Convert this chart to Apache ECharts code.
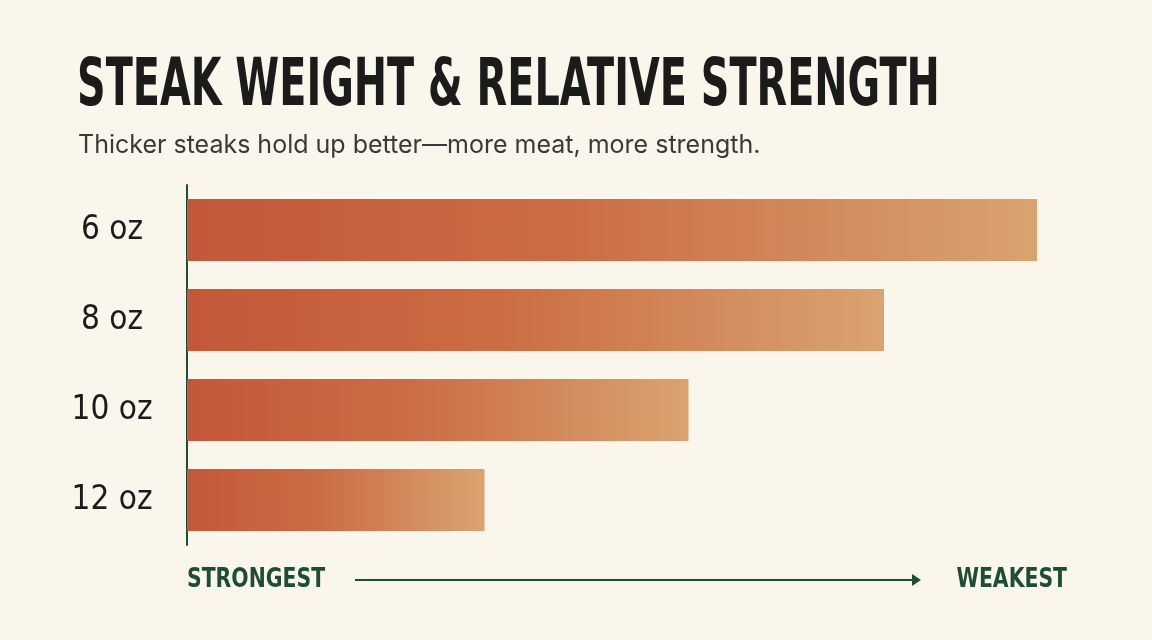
<!DOCTYPE html>
<html>
<head>
<meta charset="UTF-8">
<title>Steak weight & relative strength</title>
<script src="https://cdn.jsdelivr.net/npm/echarts@6/dist/echarts.min.js"></script>
<style>
  html, body { margin: 0; padding: 0; background: #fbf6ec; }
  #main { width: 1152px; height: 640px; }
</style>
</head>
<body>
<div id="main"></div>
<script>
    // data (relative strength, strongest = 100)
    var weights = ['6 oz', '8 oz', '10 oz', '12 oz'];
    var strength = [100, 82, 59, 35];
    var scaleLabels = ['STRONGEST', 'WEAKEST'];

    var titleText = 'STEAK WEIGHT & RELATIVE STRENGTH';
    var subText = 'Thicker steaks hold up better\u2014more meat, more strength.';

    var condensed = '"DejaVu Sans Condensed", "Liberation Sans Narrow", sans-serif';
    var green = '#1e4d34';

    var myChart = echarts.init(document.getElementById('main'));

    // red at the start of each bar, fading to tan at its end
    var barFill = new echarts.graphic.LinearGradient(0, 0, 1, 0, [
        { offset: 0, color: '#c4573a' },
        { offset: 0.45, color: '#cb6d44' },
        { offset: 1, color: '#d9a370' }
    ]);

    var option = {
        backgroundColor: '#fbf6ec',
        animation: false,
        grid: {
            left: 187,
            right: 115,
            top: 185,
            height: 360
        },
        xAxis: {
            type: 'value',
            min: 0,
            max: 100,
            show: false
        },
        yAxis: {
            type: 'category',
            data: weights,
            inverse: true,
            axisLine: { lineStyle: { color: green, width: 2 } },
            axisTick: { show: false },
            axisLabel: {
                margin: 75,
                align: 'center',
                fontFamily: condensed,
                fontSize: 33,
                color: '#1b1b1b'
            }
        },
        series: [{
            type: 'bar',
            data: strength,
            barWidth: 62,
            itemStyle: { color: barFill }
        }],
        // the title font is very condensed, so squeeze it horizontally
        graphic: [
            {
                type: 'text',
                x: 77,
                y: 88,
                scaleX: 0.68,
                style: {
                    text: titleText,
                    fill: '#1b1b1b',
                    font: 'bold 65px ' + condensed,
                    textVerticalAlign: 'middle'
                }
            },
            {
                type: 'text',
                x: 78,
                y: 145,
                style: {
                    text: subText,
                    fill: '#3b3937',
                    font: '25px Inter, "Open Sans", sans-serif',
                    textVerticalAlign: 'middle'
                }
            },
            {
                type: 'text',
                x: 187,
                y: 580,
                scaleX: 0.84,
                style: {
                    text: scaleLabels[0],
                    fill: green,
                    font: 'bold 27px ' + condensed,
                    textVerticalAlign: 'middle'
                }
            },
            {
                type: 'text',
                x: 1067,
                y: 580,
                scaleX: 0.84,
                style: {
                    text: scaleLabels[1],
                    fill: green,
                    font: 'bold 27px ' + condensed,
                    textAlign: 'right',
                    textVerticalAlign: 'middle'
                }
            },
            {
                type: 'line',
                shape: { x1: 355, y1: 580, x2: 914, y2: 580 },
                style: { stroke: green, lineWidth: 2 }
            },
            {
                type: 'polygon',
                shape: { points: [[912, 574], [921, 580], [912, 586]] },
                style: { fill: green }
            }
        ]
    };

    myChart.setOption(option);
</script>
</body>
</html>
